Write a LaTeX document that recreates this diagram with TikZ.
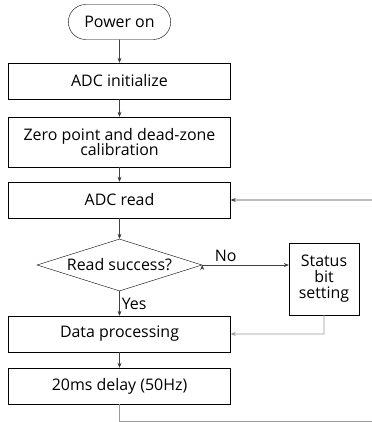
\documentclass[tikz,border=0pt]{standalone}
\usepackage{fontspec}
\setmainfont{Open Sans}
\usetikzlibrary{arrows.meta,positioning,shapes.geometric,shapes.misc}

\begin{document}
\begin{tikzpicture}[x=1bp,y=1bp,node distance=58bp,on grid,auto,
    >={Stealth[length=5bp,width=4bp]},
    every node/.style={font=\fontsize{16}{18}\selectfont},
    line/.style={draw=black!75,line width=0.6bp},
    back/.style={draw=black!40,line width=0.6bp},
    term/.style={draw,rounded rectangle,minimum width=109bp,minimum height=35bp},
    proc/.style={draw,rectangle,minimum width=222bp,minimum height=36bp,align=center},
    small/.style={draw,rectangle,minimum width=70bp,minimum height=72bp,align=center},
    test/.style={draw,diamond,aspect=3.2,inner sep=0pt,minimum width=165bp,minimum height=52bp}]
  \useasboundingbox (0,0) rectangle (372,-422);

  \node[term] (pwr) at (119.5,-22) {Power on};
  \node[proc] (init) [below=59bp of pwr] {ADC initialize};
  \node[proc,minimum height=50bp] (zero) [below=61bp of init] {Zero point and dead-zone\\[-2bp]calibration};
  \node[proc] (read) [below=58bp of zero] {ADC read};
  \node[test] (ok) [below=65bp of read] {Read success?};
  \node[small] (stat) at (324,-279) {Status\\[-2bp]bit\\[-2bp]setting};
  \node[proc] (data) [below=69bp of ok] {Data processing};
  \node[proc] (wait) [below=52bp of data] {20ms delay (50Hz)};

  \coordinate (c1) at (119.5,-421);
  \coordinate (c2) at (373,-421);
  \coordinate (c3) at (373,-200);
  \coordinate (c4) at (324,-334);

  \path[->,line]
    (pwr) edge (init)
    (init) edge (zero)
    (zero) edge (read)
    (read) edge (ok)
    (ok) edge node[anchor=west,pos=0.5,inner sep=2bp] {Yes} (data)
    (ok.east) edge node[anchor=south,pos=0.27,inner sep=3bp] {No} (ok -| stat.west)
    (data) edge (wait);
  \draw[->,back] (stat.south) -- (c4) -- (data.east);
  \draw[->,line] (c3) -- (read.east);
  \draw[back] (wait.south) -- (c1) -- (c2) -- (c3);
\end{tikzpicture}
\end{document}
